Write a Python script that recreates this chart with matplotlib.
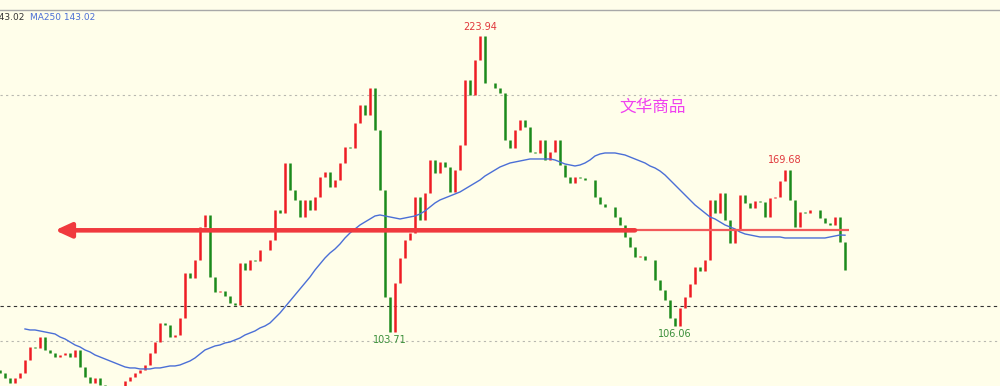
import numpy as np
import matplotlib
matplotlib.use('Agg')
import matplotlib.pyplot as plt

plt.rcParams['font.family'] = ['DejaVu Sans']

# closing prices, one candle every 5 px of the original chart
closes = [
    87.06, 85.03, 83.00, 85.03, 87.06, 92.34, 97.62, 97.21, 101.68, 96.40,
    95.18, 93.56, 94.37, 95.18, 93.56, 96.40, 89.50, 85.43, 83.00, 85.03,
    82.18, 80.15, 79.34, 80.15, 80.97, 83.81, 85.43, 87.06, 88.28, 90.31,
    95.18, 99.65, 107.37, 106.55, 101.68, 102.49, 109.40, 127.68, 125.64, 132.96,
    146.36, 151.23, 126.05, 119.96, 120.36, 118.33, 115.49, 114.68, 131.74, 128.89,
    132.96, 132.55, 137.02, 137.02, 141.08, 153.26, 152.05, 172.35, 161.39, 157.33,
    150.42, 157.33, 153.26, 158.54, 166.67, 168.70, 162.61, 165.45, 172.35, 178.85,
    178.45, 188.60, 195.91, 191.85, 202.82, 185.76, 161.39, 117.93, 103.71, 123.61,
    133.77, 141.08, 143.92, 158.54, 149.20, 160.17, 173.57, 168.29, 172.76, 170.73,
    160.58, 169.51, 179.67, 206.07, 199.97, 214.19, 223.94, 204.85, 204.85, 202.82,
    200.79, 181.70, 178.45, 185.76, 189.82, 186.98, 176.82, 176.42, 181.70, 173.57,
    176.82, 181.70, 171.54, 166.67, 164.23, 166.67, 166.26, 165.45, 165.45, 158.54,
    155.70, 154.48, 154.48, 150.42, 147.17, 142.30, 138.24, 134.17, 134.58, 132.96,
    132.96, 124.83, 120.77, 116.71, 109.40, 106.06, 113.46, 117.93, 123.21, 130.11,
    128.49, 132.96, 157.33, 152.05, 160.17, 149.20, 139.86, 145.14, 159.36, 156.11,
    154.08, 156.92, 156.51, 150.42, 158.14, 158.54, 165.04, 169.68, 157.33, 146.36,
    152.45, 152.05, 153.26, 153.26, 150.01, 147.98, 147.17, 150.42, 140.27, 128.89,
]

# MA250 values, starting at the 6th candle
ma250 = [
    104.93, 104.52, 104.52, 104.12, 103.71, 103.31, 102.90, 101.68, 100.87, 99.65,
    98.43, 97.62, 96.40, 95.59, 94.37, 93.56, 92.74, 91.93, 91.12, 90.31,
    89.50, 89.09, 89.09, 88.68, 88.68, 88.68, 89.09, 89.09, 89.50, 89.90,
    89.90, 90.31, 91.12, 91.93, 93.15, 94.78, 96.40, 97.21, 98.03, 98.43,
    99.24, 99.65, 100.46, 101.27, 102.49, 103.31, 104.12, 105.34, 106.15, 107.37,
    109.40, 111.43, 113.87, 116.30, 118.74, 121.18, 123.61, 126.05, 128.89, 131.33,
    133.77, 135.80, 137.42, 139.45, 141.89, 143.92, 145.55, 147.17, 148.39, 149.61,
    150.83, 151.23, 150.83, 150.42, 150.01, 149.61, 150.01, 150.42, 150.83, 151.64,
    152.86, 154.48, 156.11, 157.33, 158.14, 158.95, 159.76, 160.58, 161.79, 163.01,
    164.23, 165.45, 167.07, 168.29, 169.51, 170.73, 171.54, 172.35, 172.76, 173.17,
    173.57, 173.98, 173.98, 173.98, 173.98, 173.98, 173.57, 172.76, 171.95, 171.54,
    171.14, 171.54, 172.35, 173.57, 175.20, 176.01, 176.42, 176.42, 176.42, 176.01,
    175.60, 174.79, 173.98, 173.17, 172.35, 171.14, 170.32, 169.10, 167.48, 165.45,
    163.42, 161.39, 159.36, 157.33, 155.30, 153.67, 152.05, 150.42, 149.61, 148.39,
    147.17, 146.36, 145.55, 144.33, 143.52, 143.11, 142.70, 142.30, 142.30, 142.30,
    142.30, 142.30, 141.89, 141.89, 141.89, 141.89, 141.89, 141.89, 141.89, 141.89,
    141.89, 142.30, 142.70, 143.11, 143.02,
]

high_labels = [223.94, 169.68]
low_labels = [103.71, 106.06]
support_level = 114.3
arrow_level = 145.0
grid_levels = [200, 100]
ma_last = 143.02

bg = '#fffeea'
up_col = '#ee1c24'
dn_col = '#1b8a1b'

fig = plt.figure(figsize=(10, 3.86), dpi=100)
fig.patch.set_facecolor(bg)
ax = fig.add_axes([0, 0, 1, 1])
ax.set_facecolor(bg)
ax.axis('off')
ax.set_xlim(0, 200)
ax.set_ylim(81.76, 238.56)

n = len(closes)
idx = np.arange(n)
c = np.array(closes)
o = np.concatenate([[c[0] + 1.0], c[:-1]])
up = c >= o

# candles: bodies from previous close to close
ax.vlines(idx, np.minimum(o, c), np.maximum(o, c),
          colors=np.where(up, up_col, dn_col), lw=1.8, zorder=3)

ma = np.array([np.nan] * (n - len(ma250)) + ma250)
ax.plot(idx, ma, color='#4b6fd6', lw=1, zorder=4)

for g in grid_levels:
    ax.axhline(g, color='#b8b8b0', lw=0.8, ls=(0, (2, 3)), zorder=1)
ax.axhline(support_level, color='#333333', lw=0.8, ls=(0, (3, 3)), zorder=1)

# header strip
ax.axhline(234.5, color='#a8a8a8', lw=1, zorder=1)
fig.text(-0.006, 1 - 17 / 386, f'{ma_last:.2f}', fontsize=6.5,
         color='#333333', va='center', ha='left')
fig.text(0.030, 1 - 17 / 386, f'MA250 {ma_last:.2f}', fontsize=6.5,
         color='#4b6fd6', va='center', ha='left')

# red level line and hand-drawn arrow
ax.hlines(arrow_level, 100, 169.8, color='#f25a5a', lw=1.6, zorder=5)
ax.annotate('', xy=(11, arrow_level), xytext=(127, arrow_level),
            arrowprops=dict(arrowstyle='-|>,head_length=1.2,head_width=0.55',
                            mutation_scale=8, lw=3.3, color='#f03a3e',
                            shrinkA=0, shrinkB=0), zorder=6)

for v in high_labels:
    i = closes.index(v)
    ax.annotate(f'{v:.2f}', (i, v), xytext=(0, 3), textcoords='offset points',
                ha='center', va='bottom', fontsize=7, color='#e0383c')
for v in low_labels:
    i = closes.index(v)
    ax.annotate(f'{v:.2f}', (i, v), xytext=(0, -2), textcoords='offset points',
                ha='center', va='top', fontsize=7, color='#3a8f3a')

fig.text(0.653, 1 - 107 / 386, '文华商品', fontsize=12, color='#f040f0',
         family=['Noto Sans CJK SC', 'DejaVu Sans'], ha='center', va='center')

fig.savefig('out.png', dpi=100, facecolor=bg)
